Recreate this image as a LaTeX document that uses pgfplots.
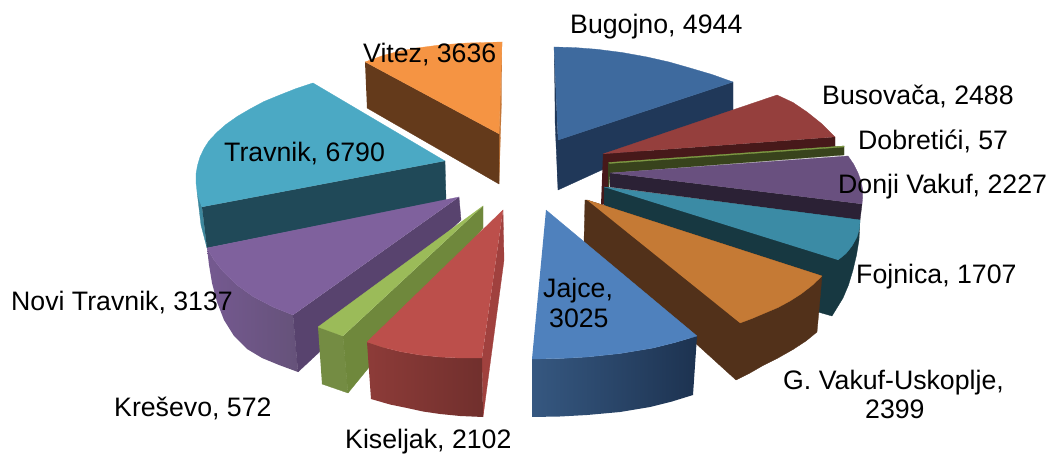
\documentclass[border=0pt]{standalone}
\usepackage{pgfplots}
\pgfplotsset{compat=1.18}
\usepackage{fontspec}
\setmainfont{Liberation Sans}
\newcommand\F[2]{\addplot[fill=#1,draw=#1,line width=0.3pt,forget plot] coordinates {#2};}
\newcommand\G[3]{\addplot[left color=#1,right color=#2,draw=none,forget plot] coordinates {#3};}
\newcommand\T[3]{\node[anchor=base west,inner sep=0pt,text=black,font=\fontsize{26.7}{30}\selectfont] at (axis cs:#1,#2) {#3};}
\definecolor{bugT}{HTML}{3E6A9E}\definecolor{bugS}{HTML}{203859}
\definecolor{busT}{HTML}{953F3D}\definecolor{busS}{HTML}{47191A}
\definecolor{dobT}{HTML}{7F9A44}\definecolor{dobS}{HTML}{38431C}
\definecolor{donT}{HTML}{69507F}\definecolor{donS}{HTML}{2B2135}
\definecolor{fojT}{HTML}{3B8BA5}\definecolor{fojS}{HTML}{173841}
\definecolor{gvT}{HTML}{C57A35}\definecolor{gvS}{HTML}{52311A}
\definecolor{jajT}{HTML}{4F81BD}
\definecolor{kisT}{HTML}{BC4F4B}\definecolor{kisR}{HTML}{A0413E}
\definecolor{kreT}{HTML}{9BBB59}\definecolor{kreS}{HTML}{6F883C}
\definecolor{novT}{HTML}{7F619D}\definecolor{novS}{HTML}{58436E}
\definecolor{traT}{HTML}{4BA9C4}\definecolor{traS}{HTML}{204958}
\definecolor{vitT}{HTML}{F59443}\definecolor{vitS}{HTML}{643A1B}
\begin{document}
\begin{tikzpicture}
\useasboundingbox (0,0) rectangle (1053pt,454pt);
\begin{axis}[
  at={(0,0)},anchor=south west,
  scale only axis,width=1053pt,height=454pt,
  xmin=0,xmax=1053,ymin=0,ymax=454,y dir=reverse,
  axis lines=none,clip=false,no markers,
  every axis plot/.append style={line join=round}]
% Bugojno
\F{bugS}{(554,47)(558,140)(558,190)(555,120)}
\F{bugS}{(558,140)(733,82)(733,110)(558,190)}
\F{bugT}{(554,47)(575,47.6)(597,49.3)(622,52.5)(647,57)(669,62)(690,68)(712,74.5)(733,82)(558,140)}
% Busovaca
\F{busS}{(603,154)(835,137)(835,147)(609,165)(608,203)(601,205)}
\F{busT}{(603,154)(777,95)(793,102.5)(807,112)(822,124)(835,137)}
% Dobretici
\F{dobS}{(608,163)(844,146)(844,155)(610,173)(609,187)(608,187)}
\F{dobT}{(608.5,162.5)(844,146)(844,147)(609,163.5)}
% Donji Vakuf
\F{donS}{(610,173)(862,204)(860,220)(610,187)}
\F{donT}{(610,173)(848,156)(853.5,164)(858,173)(861,181)(862.7,190)(862.7,197)(862,204)}
% Fojnica
\F{fojS}{(604,187)(860,220)(859,240)(856.5,255)(853,270)(848.5,285)(843,298)(832,316)(818,312)(604,205)}
\F{fojT}{(604,187)(860,220)(859.5,228)(857,237)(852,246)(846,253.5)(838,260)}
% G. Vakuf
\F{gvS}{(587,200)(822,276)(819,310)(817,332)(806,341)(793,349.5)(778,358)(763,365.5)(750,373)(736,380)(584,242)(585,200)}
\F{gvT}{(587,200)(822,276)(812,285.5)(801,294)(790,301)(778,307.5)(765,313)(752,318.5)(740,323)}
% Jajce
\G{jajT!68!black}{bugS!90!black}{(532,359)(560,358.5)(587,357)(620,353.5)(653,348)(675,342.5)(697,336)(693,395)(672,401.5)(650,407)(620,412)(587,415)(560,416.5)(532,417)}
\F{jajT}{(546,210)(697,336)(675,342.5)(653,348)(620,353.5)(587,357)(560,358.5)(532,359)}
% Vitez
\F{vitT!80!black}{(502,42)(499,134)(499,184)(501.5,100)}
\F{vitS}{(365,62)(499,134)(499,184)(367,108)}
\F{vitT}{(499,134)(502,42)(467,43)(440,45)(417,48)(400,51)(383,55.5)(365,62)}
% Travnik
\F{traT!80!black}{(202,207)(207,248)(201,225)(197,191)}
\F{traS}{(202,207)(445,161)(446,200)(207,248)}
\F{traT}{(445,161)(313,83)(296,88.6)(279.3,95.2)(264,101.5)(250,109)(237.5,116.3)(226,124.4)(217,132.3)(209,140.8)(204,148.6)(200,157)(197.5,165.5)(196,174)(196,182.5)(197,191)(199,199.5)(202,207)}
% Novi Travnik
\G{novT!92!black}{novS!92!white}{(207,248)(214,260)(223,271.5)(237,285)(253,296.5)(273,307)(293,315)(298,372)(279,365)(262,358)(247,349)(234,336)(224,320)(217,302)(212,283)(209,265)}
\F{novS}{(459,197)(461,220)(298,372)(293,315)}
\F{novT}{(459,197)(207,248)(214,260)(223,271.5)(237,285)(253,296.5)(273,307)(293,315)}
% Kresevo
\F{kreT!75!black}{(318,327)(343,336)(348,393)(322,384)}
\F{kreS}{(483,206)(483,228)(348,393)(343,336)}
\F{kreT}{(483,206)(318,327)(343,336)}
% Kiseljak
\F{kisR}{(503,210)(504,260)(483,417)(482,358)}
\G{kisT!75!black}{kisT!60!black}{(367,342)(382,347)(400,351.5)(420,355)(440,357)(460,358)(482,358)(483,417)(460,416)(440,414)(423,411.5)(407,408)(390,404.5)(371,399)}
\F{kisT}{(503,210)(367,342)(382,347)(400,351.5)(420,355)(440,357)(460,358)(482,358)}
% Labels
\T{570}{34}{Bugojno, 4944}
\T{822}{105}{Busovača, 2488}
\T{858}{150}{Dobretići, 57}
\T{838}{194}{Donji Vakuf, 2227}
\T{856}{284}{Fojnica, 1707}
\T{783}{390}{G. Vakuf-Uskoplje,}
\T{865}{419}{2399}
\T{543}{298}{Jajce,}
\T{549}{328}{3025}
\T{345}{448}{Kiseljak, 2102}
\T{114}{417}{Kreševo, 572}
\T{11}{311}{Novi Travnik, 3137}
\T{224}{162}{Travnik, 6790}
\T{363}{63}{Vitez, 3636}
\end{axis}
\end{tikzpicture}
\end{document}
